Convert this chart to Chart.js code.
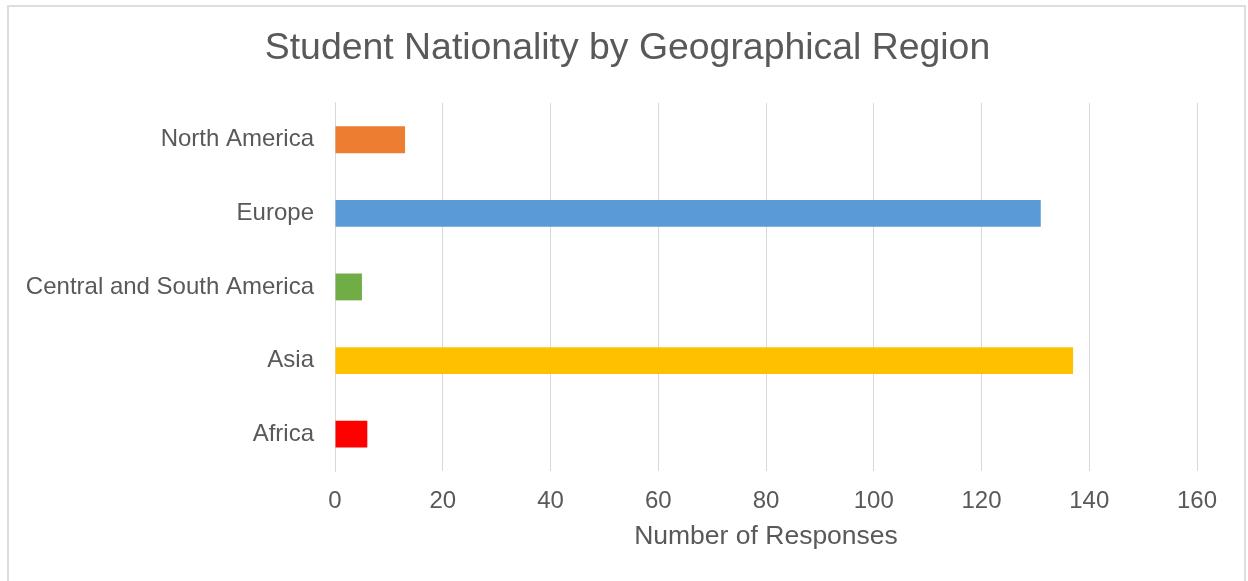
<!DOCTYPE html>
<html>
<head>
<meta charset="utf-8">
<script src="https://cdn.jsdelivr.net/npm/chart.js@4"></script>
<style>
  html, body { margin: 0; padding: 0; background: #fff; }
  #wrap { position: relative; width: 1248px; height: 581px; overflow: hidden; }
  #frame { position: absolute; left: 7px; top: 5px; width: 1235px; height: 600px; border: 2px solid #dedede; }
  canvas { position: absolute; left: 0; top: 0; }
</style>
</head>
<body>
<div id="wrap">
  <div id="frame"></div>
  <canvas id="regionChart" width="1248" height="581"></canvas>
</div>
<script>
const regions = ["North America", "Europe", "Central and South America", "Asia", "Africa"];
const responses = [13, 131, 5, 137, 6];
const barColors = ["#ED7D31", "#5B9BD5", "#70AD47", "#FFC000", "#FF0000"];
const xTicks = [0, 20, 40, 60, 80, 100, 120, 140, 160];

const fontFamily = "'Liberation Sans', Arial, sans-serif";
const textColor = "#595959";

// centre the title over the whole frame, not over the padded layout box
const centerTitle = {
  id: "centerTitle",
  afterLayout(chart) {
    if (chart.titleBlock) {
      chart.titleBlock.left = 7;
      chart.titleBlock.right = 1248;
    }
  },
};

const ctx = document.getElementById("regionChart");
new Chart(ctx, {
  type: "bar",
  data: {
    labels: regions,
    datasets: [{
      label: "Number of Responses",
      data: responses,
      backgroundColor: barColors,
      borderWidth: 0,
      categoryPercentage: 1,
      barPercentage: 0.365,
    }],
  },
  options: {
    indexAxis: "y",
    responsive: false,
    animation: false,
    layout: { padding: { left: 0, right: 51, top: 0, bottom: 28 } },
    plugins: {
      legend: { display: false },
      tooltip: { enabled: false },
      title: {
        display: true,
        text: "Student Nationality by Geographical Region",
        color: textColor,
        font: { family: fontFamily, size: 37.4, weight: "normal" },
        padding: { top: 26, bottom: 32 },
      },
    },
    scales: {
      x: {
        min: xTicks[0],
        max: xTicks[xTicks.length - 1],
        afterBuildTicks: (axis) => { axis.ticks = xTicks.map((v) => ({ value: v })); },
        afterFit: (axis) => { axis.height = 82; },
        grid: { color: "#d9d9d9", lineWidth: 1, drawTicks: false },
        border: { display: false },
        ticks: { color: textColor, font: { family: fontFamily, size: 24 }, padding: 16 },
        title: {
          display: true,
          text: "Number of Responses",
          color: textColor,
          font: { family: fontFamily, size: 26.5 },
          padding: { top: 4, bottom: 0 },
        },
      },
      y: {
        afterFit: (axis) => { axis.width = 335; },
        grid: { display: false, drawTicks: false },
        border: { display: true, color: "#d9d9d9", width: 1 },
        ticks: { color: textColor, font: { family: fontFamily, size: 24 }, padding: 21 },
      },
    },
  },
  plugins: [centerTitle],
});
</script>
</body>
</html>
